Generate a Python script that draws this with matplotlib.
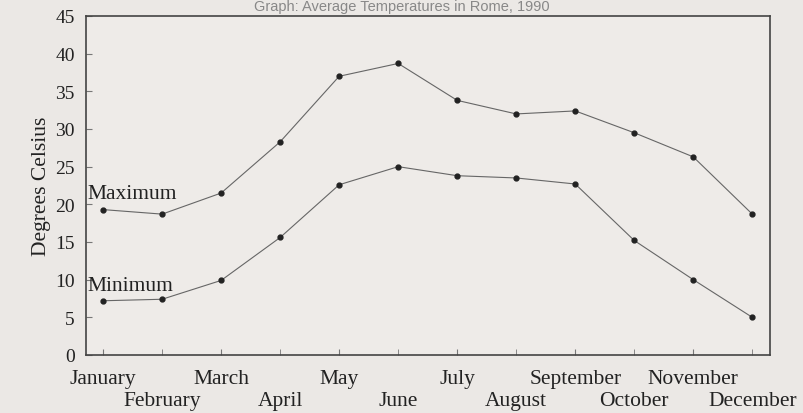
import matplotlib.pyplot as plt
import numpy as np

months = ["January", "February", "March", "April", "May", "June",
          "July", "August", "September", "October", "November", "December"]
maximum = [19.3, 18.7, 21.5, 28.3, 37.0, 38.7, 33.8, 32.0, 32.4, 29.5, 26.3, 18.7]
minimum = [7.2, 7.4, 9.9, 15.6, 22.6, 25.0, 23.8, 23.5, 22.7, 15.2, 10.0, 5.0]
yticks = [0, 5, 10, 15, 20, 25, 30, 35, 40, 45]

plt.rcParams['font.family'] = ['Liberation Serif', 'DejaVu Serif']

fig = plt.figure(figsize=(8.04, 4.14), dpi=100, facecolor='#ebe8e5')
ax = fig.add_axes([86 / 804, 1 - 356 / 414, (770 - 86) / 804, (356 - 17) / 414])
ax.set_facecolor('#eeebe8')

x = np.arange(len(months))
ax.plot(x, maximum, color='#666666', lw=0.8, marker='o', ms=3.5,
        mfc='#222222', mec='#222222')
ax.plot(x, minimum, color='#666666', lw=0.8, marker='o', ms=3.5,
        mfc='#222222', mec='#222222')

ax.text(-0.27, 20.8, "Maximum", fontsize=15.5, color='#222222', va='baseline')
ax.text(-0.27, 8.65, "Minimum", fontsize=15.5, color='#222222', va='baseline')

ax.set_xlim(-0.29, 11.3)
ax.set_ylim(0, 45)
ax.set_yticks(yticks)
ax.set_yticklabels([str(v) for v in yticks], fontsize=14, color='#222222')

# odd months on the first row, even months on a second row
ax.set_xticks(x[::2])
ax.set_xticklabels(months[::2], fontsize=15.5, color='#222222')
ax.set_xticks(x[1::2], minor=True)
ax.set_xticklabels(months[1::2], minor=True, fontsize=15.5, color='#222222')

ax.tick_params(axis='both', which='both', direction='in', length=4, color='#777777')
ax.tick_params(axis='x', which='major', pad=10)
ax.tick_params(axis='x', which='minor', pad=26)
ax.tick_params(axis='y', pad=8)
ax.set_ylabel("Degrees Celsius", fontsize=15.5, color='#222222', labelpad=3)
for s in ax.spines.values():
    s.set_color('#444444')
    s.set_linewidth(1.2)

fig.text(0.5, 0.999, "Graph: Average Temperatures in Rome, 1990",
         ha='center', va='top', fontsize=10.5, color='#888888',
         family='Liberation Sans')

fig.savefig("out.png", dpi=100, facecolor=fig.get_facecolor())
